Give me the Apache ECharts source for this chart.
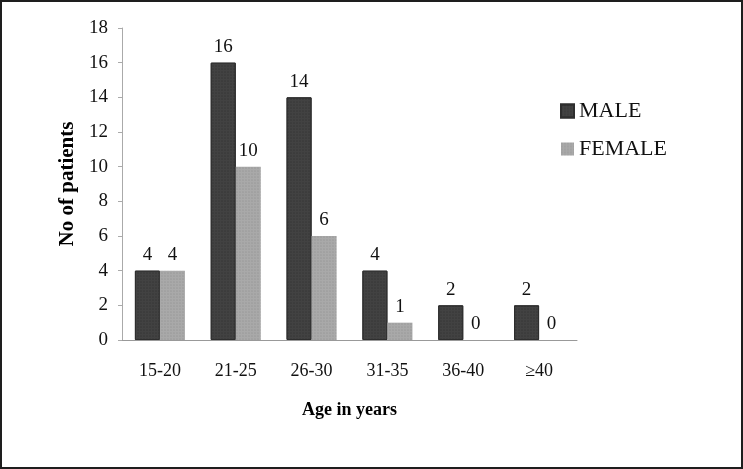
<!DOCTYPE html>
<html>
<head>
<meta charset="utf-8">
<script src="https://cdn.jsdelivr.net/npm/echarts@6/dist/echarts.min.js"></script>
<style>
  html, body { margin: 0; padding: 0; background: #fff; }
  #bar { width: 739px; height: 465px; border: 2px solid #1e1e1e; }
</style>
</head>
<body>
<div id="bar"></div>
<script>
var ageGroups = ['15-20', '21-25', '26-30', '31-35', '36-40', '≥40'];
var maleCounts = [4, 16, 14, 4, 2, 2];
var femaleCounts = [4, 10, 6, 1, 0, 0];

var serif = '"Liberation Serif", "DejaVu Serif", serif';

var myChart = echarts.init(document.getElementById('bar'));
var option = {
  animation: false,
  textStyle: { fontFamily: serif, color: '#000' },
  grid: { left: 120, right: 164, top: 26, bottom: 127 },
  legend: {
    orient: 'vertical',
    left: 553,
    top: 93,
    icon: 'rect',
    itemWidth: 13,
    itemHeight: 13,
    itemGap: 16,
    textStyle: { fontFamily: serif, fontSize: 22, color: '#111' },
    data: ['MALE', 'FEMALE']
  },
  xAxis: {
    type: 'category',
    data: ageGroups,
    name: 'Age in years',
    nameLocation: 'middle',
    nameGap: 61,
    nameTextStyle: { fontFamily: serif, fontWeight: 'bold', fontSize: 18, color: '#000' },
    axisLine: { lineStyle: { color: '#999' } },
    axisTick: { length: 4, lineStyle: { color: '#999' } },
    axisLabel: { fontFamily: serif, fontSize: 18, color: '#111', margin: 22 }
  },
  yAxis: {
    type: 'value',
    min: 0,
    max: 18,
    interval: 2,
    name: 'No of patients',
    nameLocation: 'middle',
    nameGap: 43,
    nameTextStyle: { fontFamily: serif, fontWeight: 'bold', fontSize: 21, color: '#000' },
    axisLine: { show: true, lineStyle: { color: '#aaa' } },
    axisTick: { show: true, length: 4, lineStyle: { color: '#aaa' } },
    splitLine: { show: false },
    axisLabel: { fontFamily: serif, fontSize: 19, color: '#111', margin: 14 }
  },
  series: [
    {
      name: 'MALE',
      type: 'bar',
      data: maleCounts,
      barGap: '0%',
      barCategoryGap: '34%',
      itemStyle: {
        color: '#424242',
        borderColor: '#2e2e2e',
        borderWidth: 1,
        decal: { symbol: 'circle', symbolSize: 0.6, color: 'rgba(0,0,0,0.35)', dashArrayX: [2, 1], dashArrayY: [2, 1], rotation: 0 }
      },
      label: { show: true, position: 'top', distance: 6, fontFamily: serif, fontSize: 19, color: '#111' }
    },
    {
      name: 'FEMALE',
      type: 'bar',
      data: femaleCounts,
      itemStyle: {
        color: '#a9a9a9',
        borderWidth: 0,
        decal: { symbol: 'circle', symbolSize: 0.6, color: 'rgba(90,90,90,0.35)', dashArrayX: [2, 1], dashArrayY: [2, 1], rotation: 0 }
      },
      label: { show: true, position: 'top', distance: 6, fontFamily: serif, fontSize: 19, color: '#111' }
    }
  ]
};
myChart.setOption(option);
</script>
</body>
</html>
